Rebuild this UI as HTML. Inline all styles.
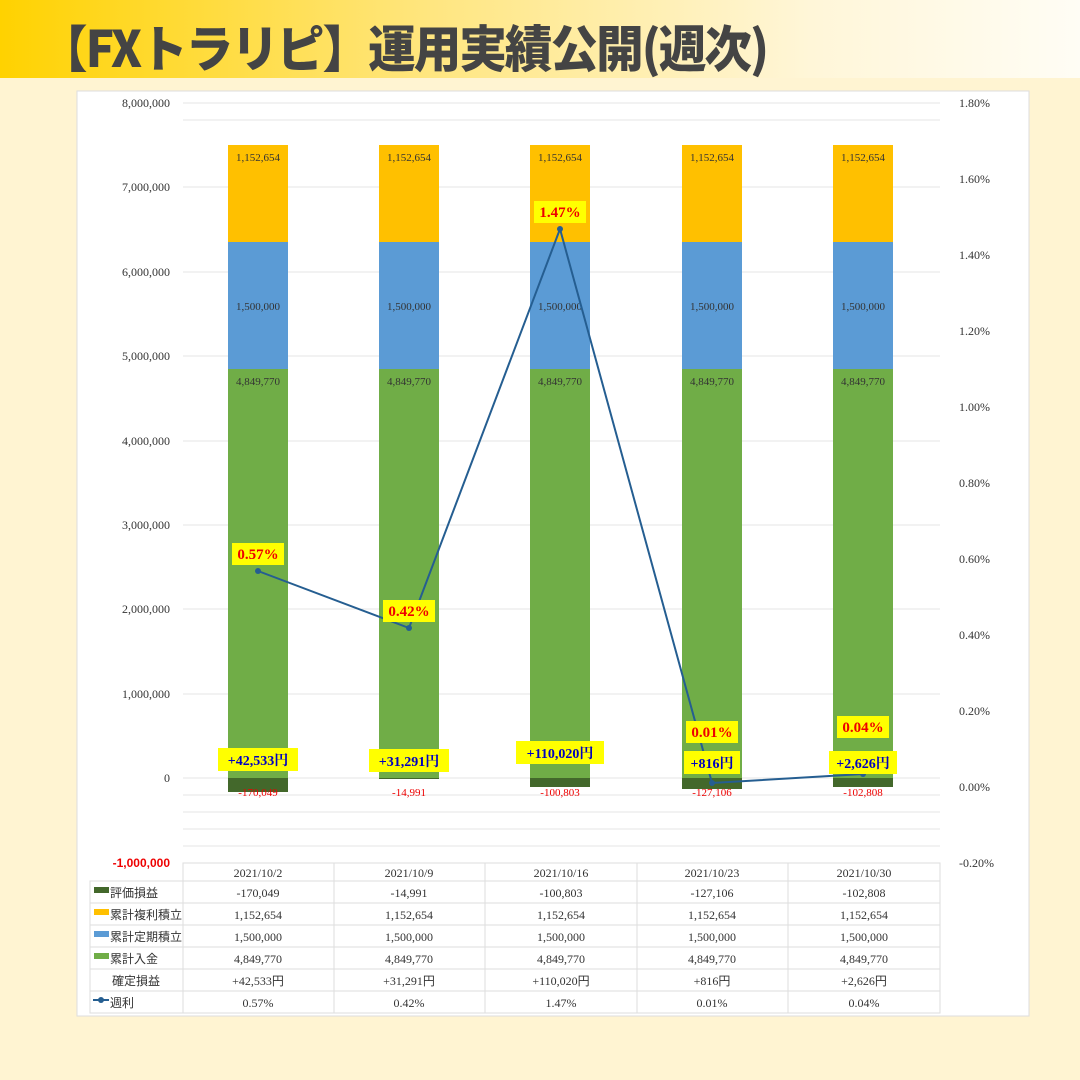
<!DOCTYPE html>
<html><head><meta charset="utf-8"><style>
body{margin:0;width:1080px;height:1080px;background:#fff4d2;font-family:"Liberation Serif","Noto Serif CJK SC",serif;overflow:hidden;position:relative}
.hdr{position:absolute;left:0;top:0;width:1080px;height:78px;background:linear-gradient(90deg,#ffd200 0%,#ffe680 40%,#fff6d8 75%,#fffdf5 100%)}
.hdr div{position:absolute;left:40px;top:10px;font-family:"Noto Sans CJK JP",sans-serif;font-weight:900;font-size:50px;color:#444;letter-spacing:-2px;transform:scaleX(0.95);transform-origin:left}
</style></head><body>
<div class="hdr"><div>【FXトラリピ】運用実績公開(週次)</div></div>
<svg width="1080" height="1080" style="position:absolute;left:0;top:0" font-family="Liberation Serif,Noto Serif CJK JP,serif">
<rect x="77" y="91" width="952" height="925" fill="#fff" stroke="#ddd"/>
<g stroke="#e6e6e6" stroke-width="1">
<line x1="183" y1="103" x2="940" y2="103"/><line x1="183" y1="187" x2="940" y2="187"/><line x1="183" y1="272" x2="940" y2="272"/><line x1="183" y1="356" x2="940" y2="356"/><line x1="183" y1="441" x2="940" y2="441"/><line x1="183" y1="525" x2="940" y2="525"/><line x1="183" y1="609" x2="940" y2="609"/><line x1="183" y1="694" x2="940" y2="694"/><line x1="183" y1="778" x2="940" y2="778"/>
<line x1="183" y1="120" x2="940" y2="120"/><line x1="183" y1="795" x2="940" y2="795"/><line x1="183" y1="812" x2="940" y2="812"/><line x1="183" y1="829" x2="940" y2="829"/><line x1="183" y1="846" x2="940" y2="846"/>
</g>
<g font-size="12" fill="#333" text-anchor="end">
<text x="170" y="107">8,000,000</text><text x="170" y="191">7,000,000</text><text x="170" y="276">6,000,000</text><text x="170" y="360">5,000,000</text><text x="170" y="445">4,000,000</text><text x="170" y="529">3,000,000</text><text x="170" y="613">2,000,000</text><text x="170" y="698">1,000,000</text><text x="170" y="782">0</text>
<text x="170" y="867" fill="#e00" font-weight="bold" font-family="Liberation Sans,sans-serif">-1,000,000</text>
</g>
<g font-size="12" fill="#333" text-anchor="end">
<text x="990" y="107">1.80%</text><text x="990" y="183">1.60%</text><text x="990" y="259">1.40%</text><text x="990" y="335">1.20%</text><text x="990" y="411">1.00%</text><text x="990" y="487">0.80%</text><text x="990" y="563">0.60%</text><text x="990" y="639">0.40%</text><text x="990" y="715">0.20%</text><text x="990" y="791">0.00%</text><text x="994" y="867">-0.20%</text>
</g>
<g>
<rect x="228" y="369" width="60" height="409" fill="#70ad47"/><rect x="228" y="242" width="60" height="127" fill="#5b9bd5"/><rect x="228" y="145" width="60" height="97" fill="#ffc000"/><rect x="228" y="778" width="60" height="14" fill="#43682b"/>
<rect x="379" y="369" width="60" height="409" fill="#70ad47"/><rect x="379" y="242" width="60" height="127" fill="#5b9bd5"/><rect x="379" y="145" width="60" height="97" fill="#ffc000"/><rect x="379" y="778" width="60" height="1" fill="#43682b"/>
<rect x="530" y="369" width="60" height="409" fill="#70ad47"/><rect x="530" y="242" width="60" height="127" fill="#5b9bd5"/><rect x="530" y="145" width="60" height="97" fill="#ffc000"/><rect x="530" y="778" width="60" height="9" fill="#43682b"/>
<rect x="682" y="369" width="60" height="409" fill="#70ad47"/><rect x="682" y="242" width="60" height="127" fill="#5b9bd5"/><rect x="682" y="145" width="60" height="97" fill="#ffc000"/><rect x="682" y="778" width="60" height="11" fill="#43682b"/>
<rect x="833" y="369" width="60" height="409" fill="#70ad47"/><rect x="833" y="242" width="60" height="127" fill="#5b9bd5"/><rect x="833" y="145" width="60" height="97" fill="#ffc000"/><rect x="833" y="778" width="60" height="9" fill="#43682b"/>
</g>
<g font-size="11" fill="#333" text-anchor="middle">
<text x="258" y="161">1,152,654</text><text x="409" y="161">1,152,654</text><text x="560" y="161">1,152,654</text><text x="712" y="161">1,152,654</text><text x="863" y="161">1,152,654</text>
<text x="258" y="310">1,500,000</text><text x="409" y="310">1,500,000</text><text x="560" y="310">1,500,000</text><text x="712" y="310">1,500,000</text><text x="863" y="310">1,500,000</text>
<text x="258" y="385">4,849,770</text><text x="409" y="385">4,849,770</text><text x="560" y="385">4,849,770</text><text x="712" y="385">4,849,770</text><text x="863" y="385">4,849,770</text>
</g>
<g font-size="11" fill="#e00" text-anchor="middle">
<text x="258" y="796">-170,049</text><text x="409" y="796">-14,991</text><text x="560" y="796">-100,803</text><text x="712" y="796">-127,106</text><text x="863" y="796">-102,808</text>
</g>
<polyline points="258,571 409,628 560,229 712,783 863,774" fill="none" stroke="#255e91" stroke-width="2"/>
<g fill="#255e91"><circle cx="258" cy="571" r="3"/><circle cx="409" cy="628" r="3"/><circle cx="560" cy="229" r="3"/><circle cx="712" cy="783" r="3"/><circle cx="863" cy="774" r="3"/></g>
<g fill="#ffff00"><rect x="232" y="543" width="52" height="22"/><rect x="383" y="600" width="52" height="22"/><rect x="534" y="201" width="52" height="22"/><rect x="686" y="721" width="52" height="22"/><rect x="837" y="716" width="52" height="22"/>
<rect x="218" y="748" width="80" height="23"/><rect x="369" y="749" width="80" height="23"/><rect x="516" y="741" width="88" height="23"/><rect x="684" y="751" width="56" height="23"/><rect x="829" y="751" width="68" height="23"/></g>
<g font-size="15" fill="#e00" font-weight="bold" text-anchor="middle">
<text x="258" y="559">0.57%</text><text x="409" y="616">0.42%</text><text x="560" y="217">1.47%</text><text x="712" y="737">0.01%</text><text x="863" y="732">0.04%</text></g>
<g font-size="14" fill="#0000c0" font-weight="bold" text-anchor="middle">
<text x="258" y="765">+42,533円</text><text x="409" y="766">+31,291円</text><text x="560" y="758">+110,020円</text><text x="712" y="768">+816円</text><text x="863" y="768">+2,626円</text></g>
<g stroke="#ddd" fill="none">
<rect x="183" y="863" width="757" height="18"/>
<rect x="90" y="881" width="850" height="132"/>
<line x1="90" y1="903" x2="940" y2="903"/><line x1="90" y1="925" x2="940" y2="925"/><line x1="90" y1="947" x2="940" y2="947"/><line x1="90" y1="969" x2="940" y2="969"/><line x1="90" y1="991" x2="940" y2="991"/>
<line x1="183" y1="863" x2="183" y2="1013"/><line x1="334" y1="863" x2="334" y2="1013"/><line x1="485" y1="863" x2="485" y2="1013"/><line x1="637" y1="863" x2="637" y2="1013"/><line x1="788" y1="863" x2="788" y2="1013"/>
</g>
<rect x="94" y="887" width="15" height="6" fill="#43682b"/><rect x="94" y="909" width="15" height="6" fill="#ffc000"/><rect x="94" y="931" width="15" height="6" fill="#5b9bd5"/><rect x="94" y="953" width="15" height="6" fill="#70ad47"/>
<line x1="93" y1="1000" x2="109" y2="1000" stroke="#255e91" stroke-width="2"/><circle cx="101" cy="1000" r="3" fill="#255e91"/>
<g font-size="12" fill="#333" font-family="Noto Sans CJK JP,sans-serif">
<text x="110" y="897">評価損益</text><text x="110" y="919">累計複利積立</text><text x="110" y="941">累計定期積立</text><text x="110" y="963">累計入金</text><text x="112" y="985">確定損益</text><text x="110" y="1007">週利</text></g>
<g font-size="12" fill="#333" text-anchor="middle" font-family="Liberation Serif,Noto Sans CJK JP,serif">
<text x="258" y="877">2021/10/2</text><text x="409" y="877">2021/10/9</text><text x="561" y="877">2021/10/16</text><text x="712" y="877">2021/10/23</text><text x="864" y="877">2021/10/30</text>
<text x="258" y="897">-170,049</text><text x="409" y="897">-14,991</text><text x="561" y="897">-100,803</text><text x="712" y="897">-127,106</text><text x="864" y="897">-102,808</text>
<text x="258" y="919">1,152,654</text><text x="409" y="919">1,152,654</text><text x="561" y="919">1,152,654</text><text x="712" y="919">1,152,654</text><text x="864" y="919">1,152,654</text>
<text x="258" y="941">1,500,000</text><text x="409" y="941">1,500,000</text><text x="561" y="941">1,500,000</text><text x="712" y="941">1,500,000</text><text x="864" y="941">1,500,000</text>
<text x="258" y="963">4,849,770</text><text x="409" y="963">4,849,770</text><text x="561" y="963">4,849,770</text><text x="712" y="963">4,849,770</text><text x="864" y="963">4,849,770</text>
<text x="258" y="985">+42,533円</text><text x="409" y="985">+31,291円</text><text x="561" y="985">+110,020円</text><text x="712" y="985">+816円</text><text x="864" y="985">+2,626円</text>
<text x="258" y="1007">0.57%</text><text x="409" y="1007">0.42%</text><text x="561" y="1007">1.47%</text><text x="712" y="1007">0.01%</text><text x="864" y="1007">0.04%</text>
</g>
</svg>
</body></html>
